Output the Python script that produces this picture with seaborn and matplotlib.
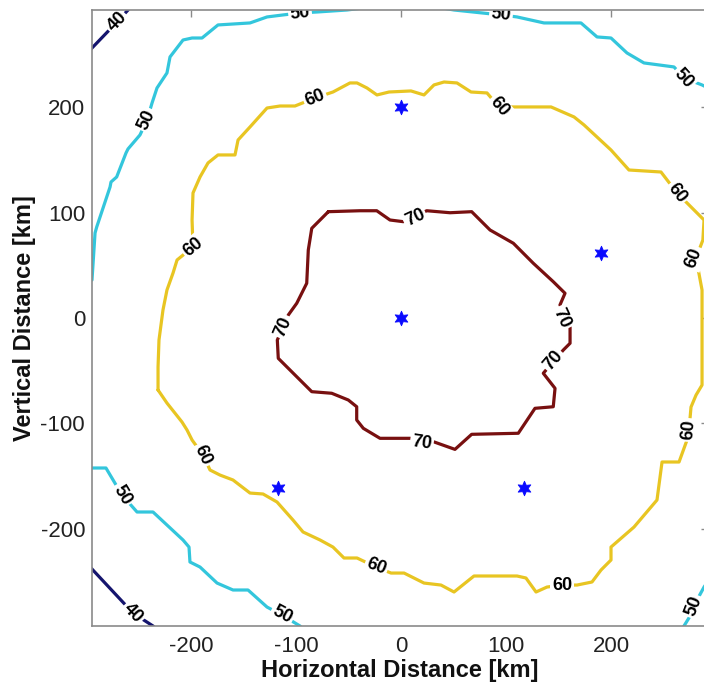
import numpy as np
import pandas as pd
import matplotlib
matplotlib.use("Agg")
import matplotlib.pyplot as plt
import seaborn as sns

# ---- contour paths (km) ----
c40_top_x = [-296.2, -294.3, -270.5, -260.0, -257.0]
c40_top_y = [254.6, 256.5, 281.2, 292.6, 296.5]

c40_bot_x = [-296.2, -294.3, -255.2, -236.2, -232.4]
c40_bot_y = [-236.6, -238.5, -280.3, -292.6, -296.4]

c50_top_x = [-294.3, -291.4, -289.8, -277.1, -276.2, -270.8, -261.9, -260.0,
             -248.6, -241.9, -237.1, -232.4, -222.9, -220.0, -207.6, -199.0,
             -189.5, -174.3, -143.8, -127.6, -112.4, -96.2, -80.0, -51.4,
             -20.0, 27.6, 50.5, 95.2, 110.5, 136.2, 171.4, 186.7, 200.0,
             215.2, 231.4, 260.0, 269.5, 286.7, 296.2]
c50_top_y = [36.1, 80.8, 86.5, 124.5, 129.2, 134.0, 156.8, 160.6,
             173.9, 188.1, 204.3, 218.5, 232.8, 248.0, 264.1, 266.0,
             266.0, 278.4, 280.3, 286.0, 287.9, 289.8, 290.7, 292.6,
             296.6, 296.6, 292.6, 287.9, 286.0, 280.3, 280.3, 267.0, 266.0,
             251.8, 242.3, 238.5, 228.0, 221.4, 216.6]

c50_botleft_x = [-294.3, -281.0, -265.7, -251.4, -236.2, -207.6, -201.9, -201.0,
                 -191.4, -175.2, -160.0, -145.7, -127.6, -113.3, -96.2, -91.4]
c50_botleft_y = [-142.5, -142.5, -168.2, -184.3, -184.3, -210.9, -217.6, -231.8,
                 -236.6, -251.8, -258.4, -258.4, -274.6, -282.2, -292.6, -298.0]

c50_botright_x = [265.7, 269.5, 277.1, 281.9, 288.6, 296.2]
c50_botright_y = [-298.0, -292.6, -280.3, -267.9, -255.6, -244.0]

c60_x = [-231.4, -231.4, -230.5, -226.7, -222.9, -217.1, -213.3, -198.1, -199.0,
         -198.1, -191.4, -183.8, -174.3, -158.1, -155.2, -143.8, -127.6, -115.2,
         -101.0, -81.9, -64.8, -48.6, -41.9, -32.4, -22.9, -11.4, 9.5, 21.9,
         31.4, 41.0, 53.3, 66.7, 81.9, 93.3, 107.6, 142.9, 164.8, 174.3, 200.0,
         217.1, 247.6, 262.9, 276.2, 288.6, 287.5, 281.0, 286.7, 286.7, 286.7,
         281.0, 276.2, 274.3, 272.4, 264.8, 248.6, 243.8, 221.9, 200.0, 200.0,
         190.5, 181.9, 167.6, 153.3, 139.0, 128.6, 119.0, 110.5, 69.5, 50.5,
         38.1, 21.9, 2.9, -9.5, -23.8, -41.9, -54.3, -64.8, -77.1, -93.3,
         -102.9, -118.1, -131.4, -143.8, -160.0, -172.4, -181.9, -188.6, -199.0,
         -203.8, -208.6, -222.9, -231.4]
c60_y = [-68.4, -46.6, -20.9, 7.6, 26.6, 42.8, 55.1, 67.5, 93.1,
         118.8, 134.0, 147.3, 154.9, 154.9, 169.1, 181.5, 199.5, 201.4,
         201.4, 209.0, 214.7, 223.3, 223.3, 218.5, 211.9, 214.7, 215.7, 211.9,
         221.4, 224.2, 223.3, 214.7, 213.8, 200.5, 200.5, 200.5, 191.0, 183.4, 159.6,
         140.6, 138.7, 118.8, 105.5, 93.1, 74.1, 57.0, 26.6, 1.0, -63.7,
         -73.2, -84.6, -106.4, -115.9, -136.8, -136.8, -172.9, -198.6, -217.6, -229.9,
         -239.4, -250.8, -253.7, -253.7, -255.6, -260.3, -247.0, -245.1, -245.1, -260.3,
         -253.7, -251.8, -242.3, -242.3, -236.6, -228.0, -228.0, -217.6, -210.9, -203.3,
         -191.9, -174.8, -167.2, -166.3, -153.9, -149.2, -144.4, -130.2, -115.9,
         -106.4, -98.8, -80.8, -68.4]

c70_x = [-69.2, -39.0, -23.1, -10.5, 2.2, 24.5, 46.7, 67.3, 84.8, 107.0, 126.0,
         145.0, 156.2, 151.4, 161.0, 161.0, 154.6, 135.5, 146.7, 145.0, 127.6,
         111.7, 67.3, 51.4, 30.8, 8.6, -20.0, -35.9, -42.2, -42.2, -50.2, -66.0,
         -85.0, -99.3, -116.9, -117.8, -107.3, -99.3, -89.8, -88.3, -85.0, -69.2]
c70_y = [101.0, 101.9, 101.9, 93.1, 91.5, 101.9, 100.0, 101.0, 83.6, 71.0, 52.0,
         34.5, 23.5, 12.4, -8.3, -24.0, -30.4, -52.5, -66.8, -84.3, -85.8,
         -109.5, -110.5, -124.8, -117.5, -114.3, -114.3, -104.8, -96.9, -84.3, -77.9, -71.5,
         -70.0, -55.8, -38.3, -20.9, 2.9, 14.0, 33.0, 64.6, 85.2, 101.0]

# ---- inline contour labels (km) ----
label_x = [-270.5, -255.2,
           -241.9, -96.2, 95.2, 269.5, -265.7, -113.3, 278.8,
           -198.1, -81.9, 93.3, 262.9, 279.0, 274.3, 153.3, -23.8, -188.6,
           13.3, 153.3, 145.0, 19.7, -112.0]
label_y = [281.2, -280.3,
           188.1, 289.8, 287.9, 228.0, -168.2, -282.2, -274.0,
           67.5, 209.0, 200.5, 118.8, 57.0, -106.4, -253.7, -236.6, -130.2,
           95.0, 0.0, -40.0, -119.0, -8.3]
label_level = ["40", "40",
               "50", "50", "50", "50", "50", "50", "50",
               "60", "60", "60", "60", "60", "60", "60", "60", "60",
               "70", "70", "70", "70", "70"]

# ---- station locations (km) ----
station_x = [0.0, 190.2, 0.0, -117.6, 117.6]
station_y = [200.0, 61.8, 0.0, -161.8, -161.8]

segments = [
    ("40a", "40", c40_top_x, c40_top_y),
    ("40b", "40", c40_bot_x, c40_bot_y),
    ("50a", "50", c50_top_x, c50_top_y),
    ("50b", "50", c50_botleft_x, c50_botleft_y),
    ("50c", "50", c50_botright_x, c50_botright_y),
    ("60a", "60", c60_x, c60_y),
    ("70a", "70", c70_x, c70_y),
]
frames = []
for seg, lev, xs, ys in segments:
    frames.append(pd.DataFrame({"x": xs, "y": ys, "level": lev, "segment": seg}))
df = pd.concat(frames, ignore_index=True)

palette = {"40": "#15156e", "50": "#33c6dc", "60": "#e8c522", "70": "#781010"}

sns.set_theme(style="white")
plt.rcParams["font.family"] = ["Liberation Sans", "DejaVu Sans"]
plt.rcParams["axes.unicode_minus"] = False

fig = plt.figure(figsize=(7.04, 6.89), dpi=100)
ax = fig.add_axes([92 / 704, 63 / 689, (707.6 - 92) / 704, 616 / 689])

sns.lineplot(data=df, x="x", y="y", hue="level", units="segment",
             estimator=None, sort=False, palette=palette, linewidth=2.3,
             legend=False, ax=ax, zorder=2)

sns.scatterplot(x=station_x, y=station_y, marker=(6, 1, 0), s=110,
                color="#0a0aff", edgecolor="#0a0aff", linewidth=0.6,
                ax=ax, zorder=4)

ax.set_xlim(-294.3, 292.0)
ax.set_ylim(-292.6, 292.6)

# inline labels rotated along the local path direction
seg_by_level = {}
for seg, lev, xs, ys in segments:
    seg_by_level.setdefault(lev, []).append(np.column_stack([xs, ys]))

for lx, ly, lev in zip(label_x, label_y, label_level):
    p = ax.transData.transform((lx, ly))
    best = None
    for verts in seg_by_level[lev]:
        d = ax.transData.transform(verts)
        for a, b in zip(d[:-1], d[1:]):
            ab = b - a
            L2 = (ab ** 2).sum()
            t = 0.0 if L2 == 0 else np.clip(((p - a) @ ab) / L2, 0, 1)
            dist = np.hypot(*(a + t * ab - p))
            if best is None or dist < best[0]:
                best = (dist, ab)
    ang = np.degrees(np.arctan2(best[1][1], best[1][0]))
    if ang > 90:
        ang -= 180
    elif ang <= -90:
        ang += 180
    ax.text(lx, ly, lev, rotation=ang, rotation_mode="anchor",
            ha="center", va="center", fontsize=13, fontweight="bold",
            color="black", zorder=2.2, clip_on=True,
            bbox=dict(boxstyle="square,pad=0.1", fc="white", ec="none"))

ax.set_xticks([-200, -100, 0, 100, 200])
ax.set_yticks([-200, -100, 0, 100, 200])
ax.tick_params(direction="in", length=5, width=1, color="#8a8a8a",
               top=True, right=True, labelsize=16, labelcolor="#222222")
ax.tick_params(axis="x", pad=7)
ax.tick_params(axis="y", pad=5)
for sp in ax.spines.values():
    sp.set_color("#8a8a8a")
    sp.set_linewidth(1.2)

ax.set_xlabel("Horizontal Distance [km]", fontsize=17, fontweight="bold",
              color="#111111")
ax.set_ylabel("Vertical Distance [km]", fontsize=17, fontweight="bold",
              color="#111111")
ax.xaxis.set_label_coords(0.5, -0.053)
ax.yaxis.set_label_coords(-0.091, 0.5)

fig.savefig("out.png", dpi=100, facecolor="white")
